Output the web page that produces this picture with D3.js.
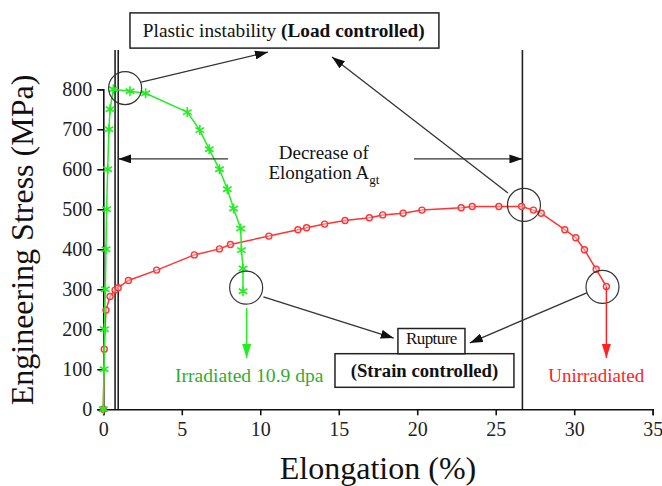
<!DOCTYPE html>
<html>
<head>
<meta charset="utf-8">
<script src="https://cdn.jsdelivr.net/npm/d3@7"></script>
<style>
  body { margin: 0; background: #fff; }
  svg { display: block; font-family: "Liberation Serif", "DejaVu Serif", serif; }
</style>
</head>
<body>
<div id="chart"></div>
<script>
// Engineering stress / elongation curves, irradiated vs unirradiated
const xTicks = [0, 5, 10, 15, 20, 25, 30, 35]
const yTicks = [0, 100, 200, 300, 400, 500, 600, 700, 800]

// Irradiated 10.9 dpa (green, asterisk markers)
const irradiatedElong = [0, 0.05, 0.07, 0.13, 0.17, 0.21, 0.28, 0.36, 0.43, 0.64, 1.7, 2.7, 5.35, 6.15, 6.75, 7.4, 7.9, 8.3, 8.75, 8.8, 8.9, 8.9]
const irradiatedStress = [0, 100, 200, 300, 400, 500, 600, 700, 750, 800, 795, 790, 743, 698, 650, 600, 550, 502, 452, 398, 352, 295]

// Unirradiated (red, open markers)
const unirradiatedElong = [0, 0.06, 0.17, 0.43, 0.75, 0.95, 1.6, 3.4, 5.8, 7.4, 8.1, 10.55, 12.4, 12.95, 14.1, 15.4, 16.95, 17.8, 19.1, 20.3, 22.8, 23.5, 25.2, 26.65, 27.4, 27.9, 29.4, 30.1, 30.65, 31.4, 32.05]
const unirradiatedStress = [0, 150, 248, 282, 298, 304, 322, 348, 386, 401, 412, 433, 449, 454, 463, 472, 479, 486, 490, 498, 504, 507, 507, 507, 498, 490, 449, 429, 399, 350, 307]

// Uniform elongation markers (vertical lines), in % elongation
const agtLines = [0.75, 0.95, 26.7]

const width = 662
const height = 486
const margin = { top: 89.3, right: 9.3, bottom: 76.7, left: 103.3 }
const serif = "'Liberation Serif', 'Times New Roman', serif"

const svg = d3.select("#chart")
  .append("svg")
  .attr("width", width)
  .attr("height", height)

const x = d3.scaleLinear()
  .domain([0, 35])
  .range([margin.left, width - margin.right])

const y = d3.scaleLinear()
  .domain([0, 800])
  .range([height - margin.bottom, margin.top])

const defs = svg.append("defs")
const head = (id, color, len, wid) => {
  defs.append("marker")
    .attr("id", id)
    .attr("viewBox", `0 0 ${len} ${wid}`)
    .attr("refX", len)
    .attr("refY", wid / 2)
    .attr("markerWidth", len)
    .attr("markerHeight", wid)
    .attr("markerUnits", "userSpaceOnUse")
    .attr("orient", "auto")
    .append("path")
    .attr("d", `M0,0 L${len},${wid / 2} L0,${wid} Z`)
    .attr("fill", color)
}
head("head", "#111", 13, 9)
head("headGreen", "#22ee22", 14, 9)
head("headRed", "#ff2222", 14, 9)

// Axes
svg.append("g")
  .attr("transform", `translate(0,${y(0)})`)
  .call(d3.axisBottom(x).tickValues(xTicks).tickSizeOuter(0).tickSize(6).tickPadding(7))
svg.append("g")
  .attr("transform", `translate(${x(0)},0)`)
  .call(d3.axisLeft(y).tickValues(yTicks).tickSizeOuter(0).tickSize(6).tickPadding(5))

svg.selectAll(".tick text")
  .attr("font-family", serif)
  .style("font-family", serif)
  .style("font-size", "20px")
  .attr("fill", "#222")
svg.selectAll(".domain, .tick line")
  .attr("stroke", "#111")
  .attr("stroke-width", 1.6)

// Axis titles
svg.append("text")
  .attr("x", (x(0) + x(35)) / 2)
  .attr("y", 479)
  .attr("text-anchor", "middle")
  .style("font-size", "32px")
  .attr("fill", "#111")
  .text("Elongation (%)")

svg.append("text")
  .attr("transform", `translate(33,${240}) rotate(-90)`)
  .attr("text-anchor", "middle")
  .style("font-size", "32px")
  .attr("fill", "#111")
  .text("Engineering Stress (MPa)")

// Vertical Agt lines
svg.selectAll(".agt")
  .data(agtLines)
  .enter()
  .append("line")
  .attr("x1", d => x(d))
  .attr("x2", d => x(d))
  .attr("y1", y(898))
  .attr("y2", y(0))
  .attr("stroke", "#222")
  .attr("stroke-width", 1.6)

// Curves
const unirr = unirradiatedElong.map((e, i) => [e, unirradiatedStress[i]])
const irr = irradiatedElong.map((e, i) => [e, irradiatedStress[i]])
const line = d3.line().x(d => x(d[0])).y(d => y(d[1]))

svg.append("path")
  .datum(unirr)
  .attr("d", line)
  .attr("fill", "none")
  .attr("stroke", "#ff3333")
  .attr("stroke-width", 1.5)

svg.selectAll(".red-pt")
  .data(unirr)
  .enter()
  .append("circle")
  .attr("cx", d => x(d[0]))
  .attr("cy", d => y(d[1]))
  .attr("r", 3)
  .attr("fill", "#fff")
  .attr("fill-opacity", 0.4)
  .attr("stroke", "#ff3333")
  .attr("stroke-width", 1.4)

svg.append("path")
  .datum(irr)
  .attr("d", line)
  .attr("fill", "none")
  .attr("stroke", "#22ee22")
  .attr("stroke-width", 1.5)

svg.selectAll(".green-pt")
  .data(irr)
  .enter()
  .append("path")
  .attr("transform", d => `translate(${x(d[0])},${y(d[1])})`)
  .attr("d", d3.symbol(d3.symbolAsterisk, 70))
  .attr("fill", "none")
  .attr("stroke", "#22ee22")
  .attr("stroke-width", 1.6)

// Annotations (data units)
const circles = [[1.39, 803], [26.8, 511], [9.1, 304], [31.8, 306]]
svg.selectAll(".ring")
  .data(circles)
  .enter()
  .append("circle")
  .attr("cx", d => x(d[0]))
  .attr("cy", d => y(d[1]))
  .attr("r", 16.5)
  .attr("fill", "none")
  .attr("stroke", "#333")
  .attr("stroke-width", 1.2)

const arrows = [
  [[2.42, 818], [10.49, 893]],
  [[25.78, 541], [14.57, 881]],
  [[7.95, 626], [0.95, 626]],
  [[19.79, 626], [26.7, 626]],
  [[10.2, 281], [18.5, 178]],
  [[30.8, 291], [23.35, 166]]
]
svg.selectAll(".arrow")
  .data(arrows)
  .enter()
  .append("line")
  .attr("x1", d => x(d[0][0]))
  .attr("y1", d => y(d[0][1]))
  .attr("x2", d => x(d[1][0]))
  .attr("y2", d => y(d[1][1]))
  .attr("stroke", "#333")
  .attr("stroke-width", 1.3)
  .attr("marker-end", "url(#head)")

// Rupture drop arrows
svg.append("line")
  .attr("x1", x(9.13)).attr("x2", x(9.13))
  .attr("y1", y(253)).attr("y2", y(128))
  .attr("stroke", "#22ee22").attr("stroke-width", 1.5)
  .attr("marker-end", "url(#headGreen)")
svg.append("line")
  .attr("x1", x(32.05)).attr("x2", x(32.05))
  .attr("y1", y(307)).attr("y2", y(128))
  .attr("stroke", "#ff2222").attr("stroke-width", 1.5)
  .attr("marker-end", "url(#headRed)")

// Boxes
const box = (x0, x1, y0, y1) => svg.append("rect")
  .attr("x", x(x0)).attr("y", y(y0))
  .attr("width", x(x1) - x(x0)).attr("height", y(y1) - y(y0))
  .attr("fill", "#fff").attr("stroke", "#222").attr("stroke-width", 1.5)

box(1.70, 21.38, 991, 903)
const t1 = svg.append("text")
  .attr("x", x(2.52)).attr("y", y(930))
  .style("font-size", "19.3px")
  .attr("fill", "#111")
t1.append("tspan").text("Plastic instability ")
t1.append("tspan").attr("font-weight", "bold").text("(Load controlled)")

box(14.76, 26.16, 139, 55)
svg.append("text")
  .attr("x", x(20.46)).attr("y", y(80))
  .attr("text-anchor", "middle")
  .attr("font-weight", "bold")
  .style("font-size", "18.7px")
  .attr("fill", "#111")
  .text("(Strain controlled)")

box(18.77, 23.04, 202, 139)
svg.append("text")
  .attr("x", x(20.9)).attr("y", y(163))
  .attr("text-anchor", "middle")
  .style("font-size", "17px")
  .style("letter-spacing", "-0.6px")
  .attr("fill", "#111")
  .text("Rupture")

// Decrease of elongation label
svg.append("text")
  .attr("x", x(14.05)).attr("y", y(625))
  .attr("text-anchor", "middle")
  .style("font-size", "19px")
  .attr("fill", "#111")
  .text("Decrease of")
const t2 = svg.append("text")
  .attr("x", x(14.05)).attr("y", y(575))
  .attr("text-anchor", "middle")
  .style("font-size", "19px")
  .attr("fill", "#111")
t2.append("tspan").text("Elongation A")
t2.append("tspan").attr("dy", 5).style("font-size", "13px").text("gt")

// Curve labels
svg.append("text")
  .attr("x", x(9.3)).attr("y", y(69))
  .attr("text-anchor", "middle")
  .style("font-size", "19.6px")
  .attr("fill", "#33aa33")
  .text("Irradiated 10.9 dpa")

svg.append("text")
  .attr("x", x(31.4)).attr("y", y(69))
  .attr("text-anchor", "middle")
  .style("font-size", "19px")
  .attr("fill", "#ff2222")
  .text("Unirradiated")
</script>
</body>
</html>
